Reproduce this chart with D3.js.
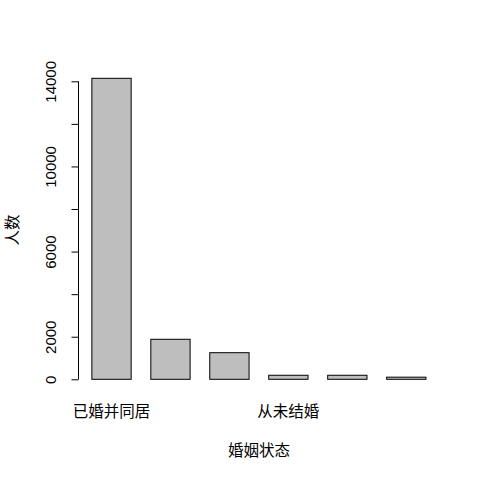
<!DOCTYPE html>
<html>
<head>
<meta charset="utf-8">
<script src="https://cdn.jsdelivr.net/npm/d3@7"></script>
<style>
  body { margin: 0; background: #fff; }
  text { font-family: "Liberation Sans", Arial, sans-serif; fill: #000; }
  .cjk { font-family: "Noto Sans CJK SC", sans-serif; }
</style>
</head>
<body>
<div id="chart"></div>
<script>
// Bar data
const categories = ["已婚并同居", "离婚", "分居", "从未结婚", "丧偶", "已婚配偶不在身边"];
const counts = [14140, 1880, 1250, 190, 190, 100];

// Labels R actually printed (the rest were dropped for overlap)
const xTickLabels = ["已婚并同居", "", "", "从未结婚", "", ""];
const yTicks = [0, 2000, 4000, 6000, 8000, 10000, 12000, 14000];
const yTickLabels = ["0", "2000", "", "6000", "", "10000", "", "14000"];

const W = 480, H = 480;

const svg = d3.select("#chart").append("svg")
    .attr("width", W)
    .attr("height", H);

// barplot(space = 0.5) style positions: bar i spans [0.5 + 1.5*i, 1.5 + 1.5*i]
const xScale = d3.scaleLinear()
    .domain([0.16, 9.34])
    .range([78.5, 439.3]);

const yScale = d3.scaleLinear()
    .domain([0, 14000])
    .range([379.3, 81.3]);

// Bars
svg.selectAll("rect.bar")
    .data(counts)
    .enter()
    .append("rect")
    .attr("class", "bar")
    .attr("x", (d, i) => xScale(0.5 + 1.5 * i))
    .attr("width", xScale(1.5) - xScale(0.5))
    .attr("y", d => yScale(d))
    .attr("height", d => yScale(0) - yScale(d))
    .attr("fill", "#bebebe")
    .attr("stroke", "#000")
    .attr("stroke-width", 1);

// Y axis (R style: line only spans ticks, labels rotated)
const yAxis = svg.append("g")
    .attr("transform", "translate(78.5,0)")
    .call(d3.axisLeft(yScale)
        .tickValues(yTicks)
        .tickSize(7)
        .tickPadding(0)
        .tickFormat((d, i) => yTickLabels[i]));

yAxis.select(".domain")
    .attr("d", "M0," + yScale(0) + "V" + yScale(14000))
    .attr("stroke", "#000");
yAxis.selectAll(".tick line").attr("stroke", "#000");
yAxis.selectAll(".tick text")
    .attr("x", null)
    .attr("dy", null)
    .attr("transform", "translate(-23,0) rotate(-90)")
    .attr("text-anchor", "middle")
    .style("font-family", "'Liberation Sans', Arial, sans-serif")
    .style("font-size", "15px")
    .attr("fill", "#000");

// X category labels
svg.selectAll("text.xlab")
    .data(xTickLabels)
    .enter()
    .append("text")
    .attr("class", "xlab cjk")
    .attr("x", (d, i) => xScale(1 + 1.5 * i))
    .attr("y", 417)
    .attr("text-anchor", "middle")
    .style("font-size", "15.5px")
    .text(d => d);

// Axis titles
svg.append("text")
    .attr("class", "cjk")
    .attr("x", (xScale.range()[0] + xScale.range()[1]) / 2)
    .attr("y", 456)
    .attr("text-anchor", "middle")
    .style("font-size", "15.5px")
    .text("婚姻状态");

svg.append("text")
    .attr("class", "cjk")
    .attr("transform", "translate(18," + 230 + ") rotate(-90)")
    .attr("text-anchor", "middle")
    .style("font-size", "15.5px")
    .text("人数");
</script>
</body>
</html>
